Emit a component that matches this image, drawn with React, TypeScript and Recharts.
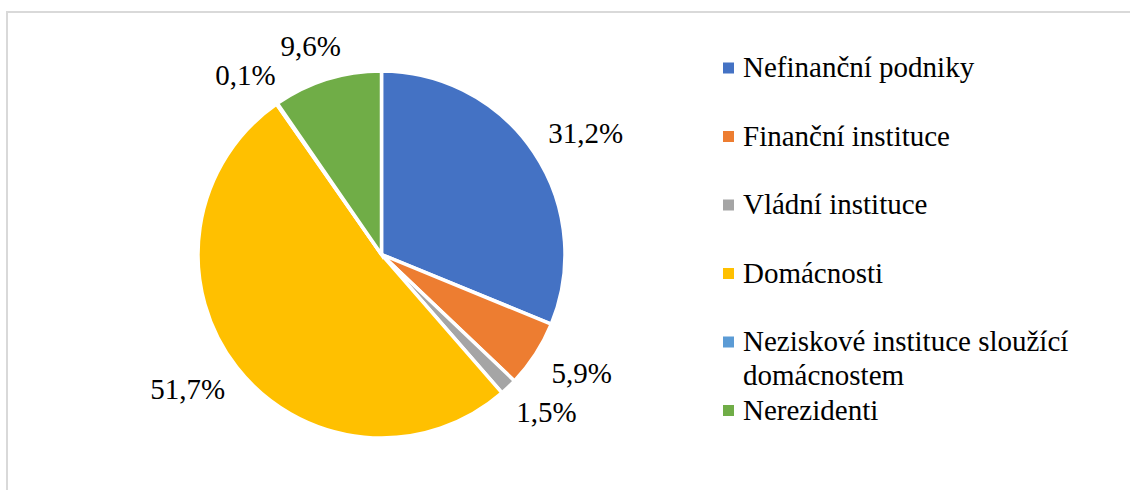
import React from 'react';
import { PieChart, Pie, Cell, Legend } from 'recharts';

const CATEGORIES = [
  'Nefinanční podniky',
  'Finanční instituce',
  'Vládní instituce',
  'Domácnosti',
  'Neziskové instituce sloužící domácnostem',
  'Nerezidenti',
];
const SHARES = [31.2, 5.9, 1.5, 51.7, 0.1, 9.6];
const COLORS = ['#4472C4', '#ED7D31', '#A5A5A5', '#FFC000', '#5B9BD5', '#70AD47'];

const data = CATEGORIES.map((name, i) => ({ name, value: SHARES[i] }));

const FONT = "'Liberation Serif', 'Times New Roman', Tinos, serif";
const FONT_SIZE = 29;
const textStyle = { fontFamily: FONT, fontSize: FONT_SIZE };

let ctx: CanvasRenderingContext2D | null = null;
const measure = (t: string) => {
  if (!ctx) {
    const c = document.createElement('canvas');
    ctx = c.getContext('2d');
  }
  if (!ctx) return t.length * FONT_SIZE * 0.5;
  ctx.font = `${FONT_SIZE}px ${FONT}`;
  return ctx.measureText(t).width;
};

const fmt = (v: number) => v.toFixed(1).replace('.', ',') + '%';

const renderLabel = (props: any) => {
  const { cx, cy, midAngle, outerRadius, index } = props;
  const text = fmt(SHARES[index]);
  const hw = measure(text) / 2;
  const hh = 10;
  const rad = (-midAngle * Math.PI) / 180;
  const ux = Math.cos(rad);
  const uy = Math.sin(rad);
  const r = outerRadius + 25;
  const x = cx + ux * r + ux * hw;
  const y = cy + uy * r + uy * hh;
  return (
    <text
      key={`lbl-${index}`}
      x={x}
      y={y}
      textAnchor="middle"
      dominantBaseline="central"
      style={textStyle}
      fill="#000"
    >
      {text}
    </text>
  );
};

const wrap = (t: string, maxW: number) => {
  const words = t.split(' ');
  const lines: string[] = [];
  let cur = '';
  words.forEach((w) => {
    const test = cur ? cur + ' ' + w : w;
    if (cur && measure(test) > maxW) {
      lines.push(cur);
      cur = w;
    } else cur = test;
  });
  if (cur) lines.push(cur);
  return lines;
};

const LegendContent = () => {
  const lineH = 34.25;
  let cursor = 77;
  const items = CATEGORIES.map((name, i) => {
    const lines = wrap(name, 345);
    const base = cursor;
    cursor += Math.max(lines.length, 2) * lineH;
    return (
      <g key={`leg-${i}`}>
        <rect x={23} y={base - 14.5} width={11} height={11} fill={COLORS[i]} />
        {lines.map((ln, j) => (
          <text key={j} x={43} y={base + j * lineH} style={textStyle} fill="#000">
            {ln}
          </text>
        ))}
      </g>
    );
  });
  return (
    <svg width={430} height={490} style={{ display: 'block' }}>
      {items}
    </svg>
  );
};

export default function App() {
  return (
    <div style={{ position: 'absolute', left: 0, top: 0, width: 1130, height: 490, background: '#fff' }}>
      <div
        style={{
          position: 'absolute',
          left: 6,
          top: 11,
          width: 1130,
          height: 490,
          borderTop: '2px solid #d9d9d9',
          borderLeft: '2px solid #d9d9d9',
          boxSizing: 'border-box',
        }}
      />
      <div style={{ position: 'absolute', left: 0, top: 0 }}>
        <PieChart width={1130} height={490} margin={{ top: 0, right: 0, bottom: 0, left: 0 }}>
          <Pie
            data={data}
            dataKey="value"
            nameKey="name"
            cx={381.5}
            cy={254.5}
            outerRadius={183.5}
            startAngle={90}
            endAngle={-270}
            stroke="#ffffff"
            strokeWidth={3.5}
            label={renderLabel}
            labelLine={false}
            isAnimationActive={false}
          >
            {data.map((d, i) => (
              <Cell key={d.name} fill={COLORS[i]} />
            ))}
          </Pie>
          <Legend
            layout="vertical"
            align="right"
            verticalAlign="top"
            content={LegendContent}
            wrapperStyle={{ left: 700, top: 0, right: 'auto', bottom: 'auto', width: 430, height: 490 }}
          />
        </PieChart>
      </div>
    </div>
  );
}
